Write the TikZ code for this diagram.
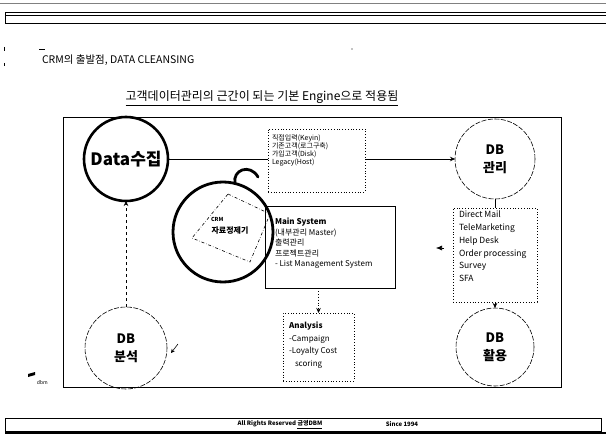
\documentclass[tikz,border=0pt]{standalone}
\usepackage{fontspec}
\setmainfont{Noto Sans CJK KR}
\usetikzlibrary{arrows.meta}
\begin{document}
\begin{tikzpicture}[x=1pt,y=-1pt,
  every node/.style={inner sep=0pt, outer sep=0pt},
  bigcirc/.style={circle, draw, align=center, font=\fontsize{13}{18}\selectfont\bfseries},
  dashcirc/.style={bigcirc, dash pattern=on 5pt off 1.5pt, line width=0.6pt},
  dotbox/.style={draw, dotted, line width=0.8pt, fill=white},
  boxtext/.style={anchor=north west, align=left},
  arr/.style={-{Stealth[length=5pt,width=4.5pt]}}
]
\useasboundingbox (0,0) rectangle (606,444);
% header
\draw[gray, line width=0.5pt] (0,3) -- (606,3);
\draw[line width=1pt] (606,13) -- (5,13) -- (5,24) -- (606,24);
\draw[line width=0.4pt] (5,15.5) -- (606,15.5);
\draw[line width=0.6pt] (39,49) -- (45,49);
\draw[line width=0.6pt] (4,47) -- (4,51);
\draw[line width=0.6pt] (4,63) -- (4,66);
\fill (352,49) circle (0.6);
\node[anchor=west, font=\fontsize{10.5}{12}\selectfont] (title) at (42,60) {CRM의 출발점, DATA CLEANSING};
\node[font=\fontsize{12}{14}\selectfont] (head) at (262,97) {고객데이터관리의 근간이 되는 기본 Engine으로 적용됨};
\draw[line width=0.8pt] ([yshift=-2pt]head.south west) -- ([yshift=-2pt]head.south east);
% frame
\draw[line width=0.8pt] (63,117) rectangle (561,387);
% circles
\node[bigcirc, line width=2.6pt, minimum size=84pt, font=\fontsize{17}{20}\selectfont\bfseries] (datac) at (126,159) {Data수집};
\node[dashcirc, minimum size=80pt] (dbm) at (495,159) {DB\\관리};
\node[dashcirc, minimum size=82pt] (dba) at (126,348) {DB\\분석};
\node[dashcirc, minimum size=78pt] (dbu) at (495,347) {DB\\활용};
% connectors
\draw[arr, line width=0.7pt] (datac) -- (dbm);
\draw[arr, dashed, line width=0.5pt] (dba) -- (datac);
% source box
\node[dotbox, minimum width=97pt, minimum height=63pt] (src) at (316.5,160.5) {};
\node[boxtext, font=\fontsize{7}{8}\selectfont] (srctext) at (272,135) {직접입력(Keyin)\\기존고객(로그구축)\\가입고객(Disk)\\Legacy(Host)};
% main system box
\node[draw, line width=0.9pt, minimum width=130pt, minimum height=82pt] (mainsys) at (330,247) {};
\node[boxtext, font=\fontsize{8}{10.5}\selectfont] (maintext) at (275,218) {\textbf{Main System}\\(내부관리 Master)\\출력관리\\프로젝트관리\\- List Management System};
% cleaner circle
\draw[dash dot, line width=0.6pt] (228,194) -- (270,214) -- (250,262) -- (192,238) -- cycle;
\node[circle, draw, line width=2.8pt, minimum size=100pt] (cleaner) at (223,232) {};
\draw[line width=2.8pt, line cap=round] (cleaner.76) .. controls (232,170) and (250,163) .. (258,177);
\node[font=\fontsize{5.5}{6}\selectfont\bfseries, anchor=west] (crm) at (211,219) {CRM};
\node[font=\fontsize{8}{9}\selectfont\bfseries] (cleanertext) at (230,231) {자료정제기};
% analysis
\node[dotbox, minimum width=71pt, minimum height=68pt] (analysis) at (318.5,347) {};
\node[boxtext, font=\fontsize{8}{12.5}\selectfont] (antext) at (289,322) {\textbf{Analysis}\\-Campaign\\-Loyalty Cost\\\hspace{6pt}scoring};
\draw[arr, dotted, line width=0.9pt] (mainsys.south -| analysis.north) -- (analysis.north);
% channels
\node[dotbox, minimum width=84pt, minimum height=94pt] (channels) at (495,255) {};
\node[boxtext, font=\fontsize{8.5}{12.8}\selectfont] (chtext) at (459,211) {Direct Mail\\TeleMarketing\\Help Desk\\Order processing\\Survey\\SFA};
\draw[line width=0.6pt] (dbm) -- (channels);
\draw[arr, line width=0.6pt] (channels) -- (dbu);
\coordinate (pa) at (444,248);
\coordinate (pb) at (436,248);
\draw[-{Latex[length=6pt,width=5pt]}, line width=0.6pt] (pa) -- (pb);
\coordinate (qa) at (178,344);
\coordinate (qb) at (171,353);
\draw[-{Stealth[length=4pt,width=4pt]}, line width=0.6pt] (qa) -- (qb);
% logo
\fill (28,374) -- (35,372) -- (35,375) -- (28,377) -- cycle;
\node[anchor=west, font=\fontsize{5}{6}\selectfont] (logo) at (37,383) {dbm};
% footer
\draw[line width=1pt] (5,418) rectangle (601,431);
\draw[line width=1.2pt] (5,433) -- (606,433);
\node[font=\fontsize{6}{7}\selectfont\bfseries\itshape] (foot1) at (280,424.5) {All Rights Reserved \underline{금영DBM}};
\node[font=\fontsize{6}{7}\selectfont\bfseries] (foot2) at (402,424.5) {Since 1994};
\end{tikzpicture}
\end{document}
